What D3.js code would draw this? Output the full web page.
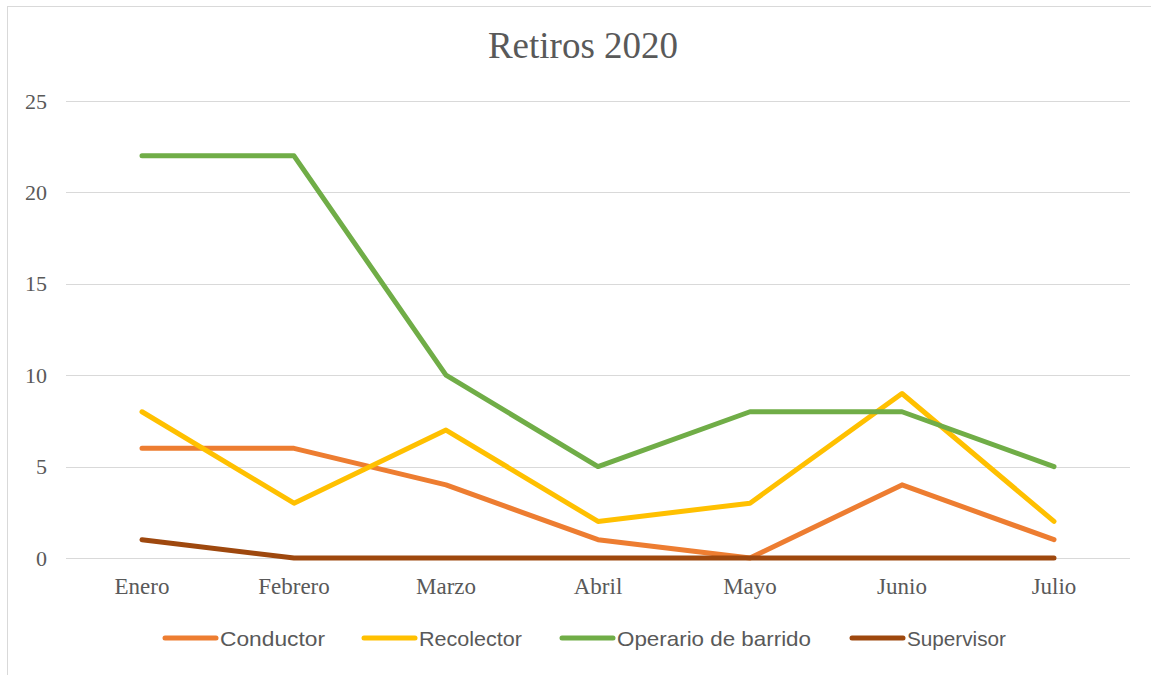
<!DOCTYPE html>
<html><head><meta charset="utf-8">
<script src="https://cdn.jsdelivr.net/npm/d3@7/dist/d3.min.js"></script>
<style>body{margin:0;background:#fff;} svg{display:block;}</style>
</head><body>
<svg id="chart" width="1151" height="675"></svg>
<script>
const categories = ["Enero","Febrero","Marzo","Abril","Mayo","Junio","Julio"];
const conductor = [6,6,4,1,0,4,1];
const recolector = [8,3,7,2,3,9,2];
const operario = [22,22,10,5,8,8,5];
const supervisor = [1,0,0,0,0,0,0];
const seriesNames = ["Conductor","Recolector","Operario de barrido","Supervisor"];
const seriesColors = ["#ED7D31","#FFC000","#70AD47","#9E480E"];
const yTicks = [0,5,10,15,20,25];
const title = "Retiros 2020";

const series = [conductor, recolector, operario, supervisor].map((v,i)=>({name:seriesNames[i], color:seriesColors[i], values:v}));

const svg = d3.select("#chart");
svg.append("rect").attr("x",7.5).attr("y",6.5).attr("width",1160).attr("height",680)
  .attr("fill","#fff").attr("stroke","#d9d9d9").attr("stroke-width",1);

const x = d3.scaleBand().domain(categories).range([66,1130]);
const y = d3.scaleLinear().domain([0,25]).range([558,101]);

// gridlines
svg.append("g").selectAll("line").data(yTicks).join("line")
  .attr("x1",66).attr("x2",1130)
  .attr("y1",d=>Math.round(y(d))+0.5).attr("y2",d=>Math.round(y(d))+0.5)
  .attr("stroke","#d9d9d9").attr("stroke-width",1);

// y axis labels
const yAxis = d3.axisLeft(y).tickValues(yTicks).tickSize(0).tickPadding(0);
const gy = svg.append("g").attr("transform","translate(47,0)").call(yAxis);
gy.select(".domain").remove();
gy.selectAll("text").attr("font-family","'Liberation Serif', serif").attr("font-size",22).attr("fill","#595959");

// x axis labels
const xAxis = d3.axisBottom(x).tickSize(0).tickPadding(0);
const gx = svg.append("g").attr("transform","translate(0,578)").call(xAxis);
gx.select(".domain").remove();
gx.selectAll("text").attr("font-family","'Liberation Serif', serif").attr("font-size",23).attr("fill","#595959");

// lines
const line = d3.line().x((d,i)=>x(categories[i])+x.bandwidth()/2).y(d=>y(d));
svg.append("g").selectAll("path").data(series).join("path")
  .attr("d",d=>line(d.values)).attr("fill","none").attr("stroke",d=>d.color)
  .attr("stroke-width",5).attr("stroke-linecap","round").attr("stroke-linejoin","round");

// title
svg.append("text").attr("x",583).attr("y",58).attr("text-anchor","middle")
  .attr("font-family","'Liberation Serif', serif").attr("font-size",37).attr("fill","#595959").text(title);

// legend
const legendX = [163,362,560,850];
const legendW = [105,103,194,99];
const lg = svg.append("g").selectAll("g").data(series).join("g")
  .attr("transform",(d,i)=>`translate(${legendX[i]},638)`);
lg.append("line").attr("x1",2).attr("x2",53).attr("y1",0).attr("y2",0)
  .attr("stroke",d=>d.color).attr("stroke-width",5).attr("stroke-linecap","round");
lg.append("text").attr("x",57).attr("y",8).attr("font-family","'Liberation Sans', Arial, sans-serif")
  .attr("font-size",21).attr("fill","#595959")
  .attr("textLength",(d,i)=>legendW[i]).attr("lengthAdjust","spacingAndGlyphs").text(d=>d.name);
</script>
</body></html>
